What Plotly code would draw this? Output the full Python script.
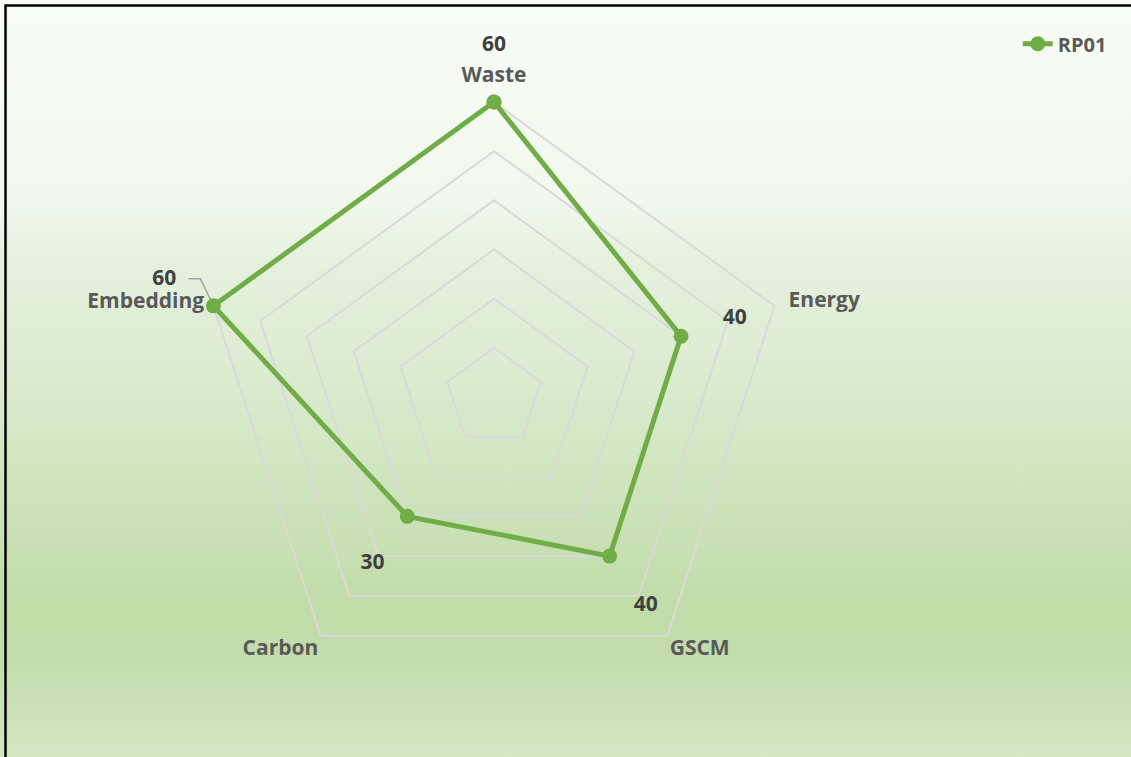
import base64
import math
import plotly.graph_objects as go

# Scores per dimension for RP01
categories = ["Waste", "Energy", "GSCM", "Carbon", "Embedding"]
values = [60, 40, 40, 30, 60]
series_name = "RP01"
grid_values = [10, 20, 30, 40, 50, 60]

W, H = 1131, 757
GREEN = "#70ad47"
LABEL_GRAY = "#595959"
VALUE_GRAY = "#404040"
GRID_GRAY = "#d9d9d9"
LEADER_GRAY = "#a6a6a6"
FONT = "Open Sans"

# Radial extent leaves room for labels outside the outer ring
R_MAX = 72
CX, CY, R_PX = 494, 397, 354  # polar centre and full radius, px

# Label placement (radius in data units, text anchor)
value_label_pad = [11.5, 11.5, 12.5, 12, 10.5]
value_label_pos = ["middle center", "middle center", "middle center",
                   "middle center", "top center"]
cat_label_r = [63, 63, 60.8, 60.8, 62]
cat_label_pos = ["top center", "middle right", "bottom right",
                 "bottom left", "middle left"]

# Vertical background gradient as an inline SVG
svg = f"""<svg xmlns='http://www.w3.org/2000/svg' width='{W}' height='{H}' viewBox='0 0 {W} {H}' preserveAspectRatio='none'>
<defs><linearGradient id='g' x1='0' y1='0' x2='0' y2='1'>
<stop offset='0' stop-color='#f8fbf6'/>
<stop offset='0.26' stop-color='#f2f8ee'/>
<stop offset='0.34' stop-color='#e6f1de'/>
<stop offset='0.52' stop-color='#d9eacd'/>
<stop offset='0.80' stop-color='#c0dca8'/>
<stop offset='0.87' stop-color='#c2ddab'/>
<stop offset='1' stop-color='#d3e7c4'/>
</linearGradient></defs>
<rect width='100%' height='100%' fill='url(#g)'/>
</svg>"""
bg_src = "data:image/svg+xml;base64," + base64.b64encode(svg.encode()).decode()

closed_theta = categories + categories[:1]
closed_r = values + values[:1]

fig = go.Figure()

fig.add_trace(go.Scatterpolar(
    r=closed_r,
    theta=closed_theta,
    mode="lines+markers",
    name=series_name,
    line=dict(color=GREEN, width=5),
    marker=dict(color=GREEN, size=15),
    cliponaxis=False,
))

# Value labels just beyond each point, along its spoke
fig.add_trace(go.Scatterpolar(
    r=[v + p for v, p in zip(values, value_label_pad)],
    theta=categories,
    mode="text",
    text=[str(v) for v in values],
    textposition=value_label_pos,
    textfont=dict(family=FONT, size=21, color=VALUE_GRAY, weight="bold"),
    cliponaxis=False,
    showlegend=False,
    hoverinfo="skip",
))

# Category names around the outer ring
fig.add_trace(go.Scatterpolar(
    r=cat_label_r,
    theta=categories,
    mode="text",
    text=categories,
    textposition=cat_label_pos,
    textfont=dict(family=FONT, size=21, color=LABEL_GRAY, weight="bold"),
    cliponaxis=False,
    showlegend=False,
    hoverinfo="skip",
))

# Leader line from the Embedding value label to its point
k = categories.index("Embedding")
ang = math.radians(90 - 360 * k / len(categories))
rp = values[k] / R_MAX * R_PX
px, py = CX + rp * math.cos(ang), CY - rp * math.sin(ang)
leader = [(px, py), (px - 13, py - 27), (px - 25, py - 27)]
leader_path = "M " + " L ".join(f"{x / W:.5f},{1 - y / H:.5f}" for x, y in leader)

fig.update_layout(
    width=W,
    height=H,
    margin=dict(l=0, r=0, t=0, b=0),
    paper_bgcolor="white",
    font=dict(family=FONT, color=LABEL_GRAY),
    images=[dict(
        source=bg_src, xref="paper", yref="paper", x=0, y=1,
        sizex=1, sizey=1, sizing="stretch", layer="below",
        xanchor="left", yanchor="top",
    )],
    polar=dict(
        domain=dict(x=[(CX - R_PX) / W, (CX + R_PX) / W],
                    y=[1 - (CY + R_PX) / H, 1 - (CY - R_PX) / H]),
        bgcolor="rgba(0,0,0,0)",
        gridshape="linear",
        radialaxis=dict(
            range=[0, R_MAX],
            tickvals=grid_values,
            showticklabels=False,
            ticks="",
            showline=False,
            gridcolor=GRID_GRAY,
            gridwidth=2,
        ),
        angularaxis=dict(
            rotation=90,
            direction="clockwise",
            showgrid=False,
            showline=False,
            showticklabels=False,
            ticks="",
        ),
    ),
    legend=dict(
        x=0.983, y=0.968, xanchor="right", yanchor="top",
        bgcolor="rgba(0,0,0,0)",
        font=dict(family=FONT, size=20, color=LABEL_GRAY, weight="bold"),
    ),
    shapes=[
        dict(type="path", xref="paper", yref="paper", path=leader_path,
             line=dict(color=LEADER_GRAY, width=1.5), layer="below"),
        dict(type="rect", xref="paper", yref="paper",
             x0=5.5 / W, x1=1.2, y0=-0.2, y1=1 - 5.5 / H,
             line=dict(color="black", width=2.5), fillcolor="rgba(0,0,0,0)",
             layer="above"),
    ],
)

fig.write_html("out.html")
